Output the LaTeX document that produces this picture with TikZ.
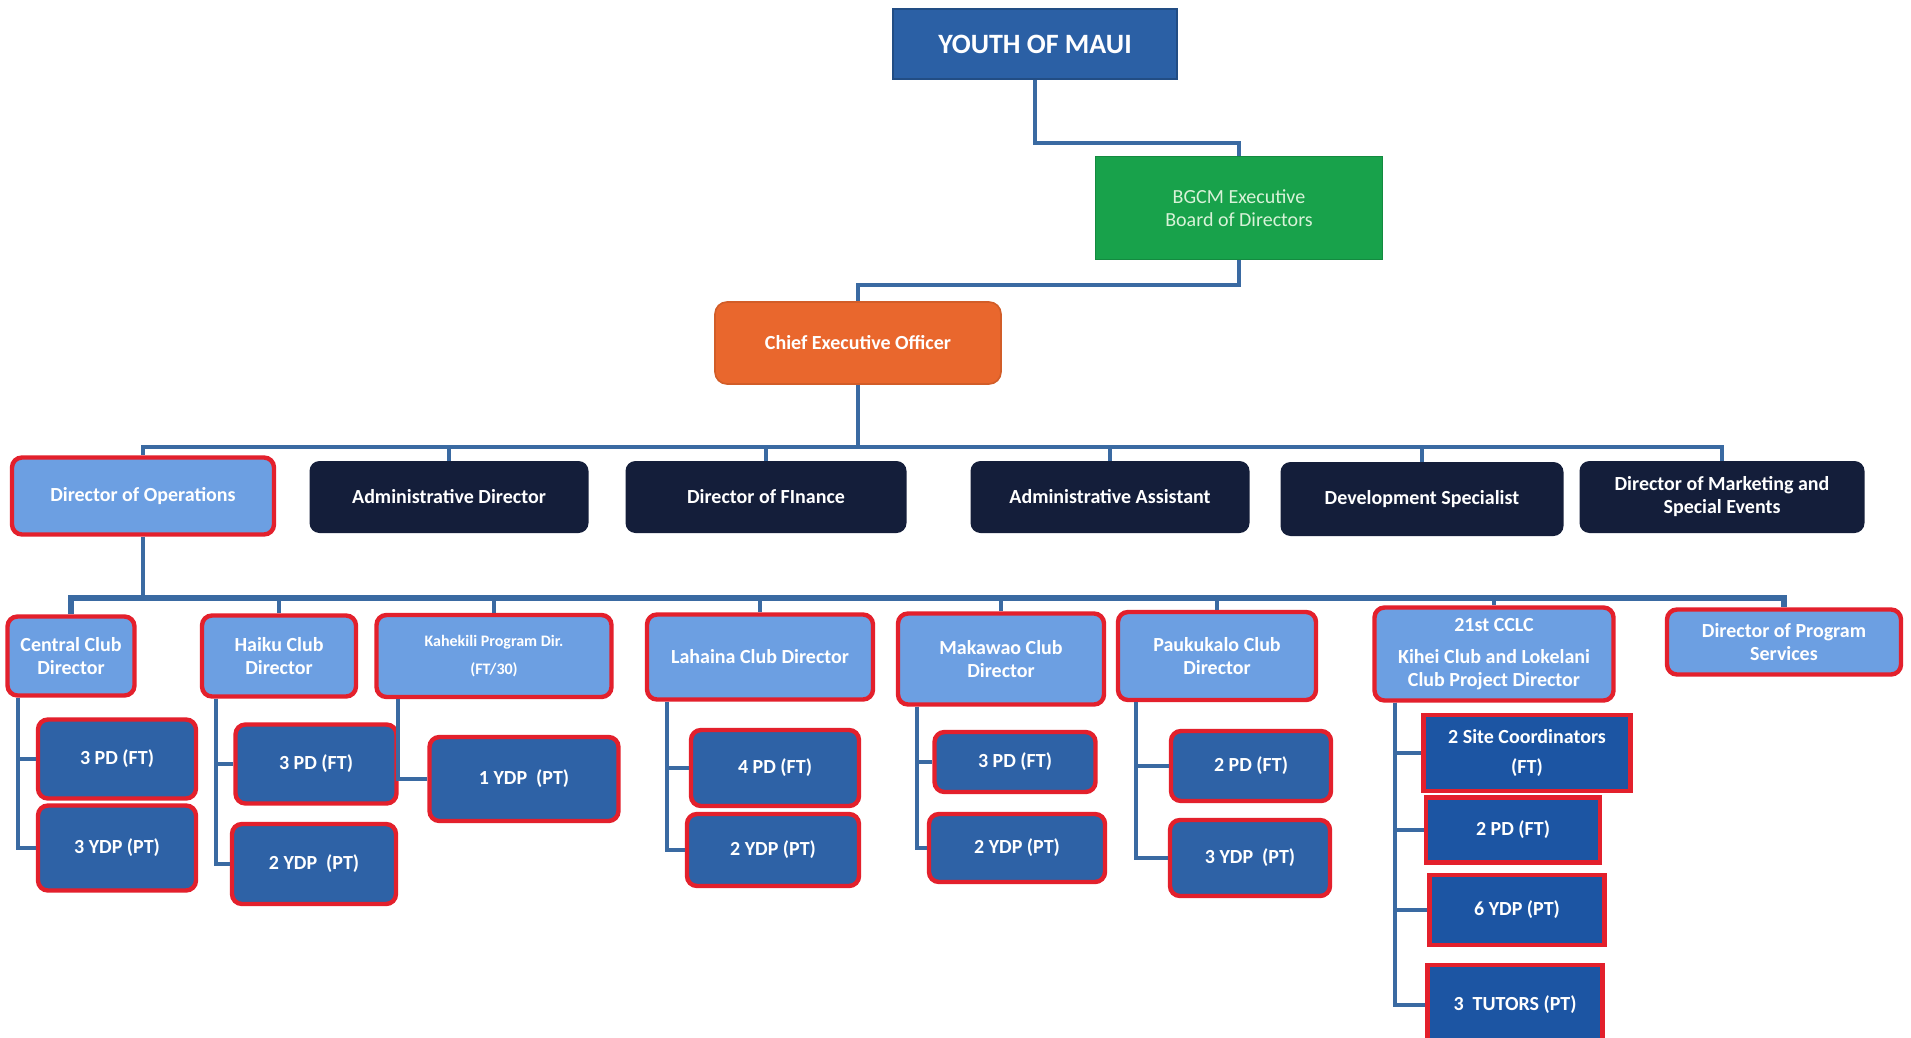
\documentclass[tikz,border=0pt]{standalone}
\usepackage{fontspec}
\setmainfont{Carlito}
\usetikzlibrary{calc}
\definecolor{linec}{HTML}{3A6AA2}
\definecolor{lightb}{HTML}{6C9FE2}
\definecolor{darkb}{HTML}{2E62A6}
\definecolor{cclcb}{HTML}{1C55A3}
\definecolor{navyb}{HTML}{141E3A}
\definecolor{redb}{HTML}{E3202C}
\definecolor{youthb}{HTML}{2B60A5}
\definecolor{greenb}{HTML}{18A24B}
\definecolor{orangeb}{HTML}{E9672D}
\definecolor{greent}{HTML}{D8F2D8}
\begin{document}
\begin{tikzpicture}[x=0.5pt,y=-0.5pt,
  sz/.style 2 args={minimum width=#1*0.5pt,minimum height=#2*0.5pt},
  base/.style={align=center,text=white,inner sep=0pt,font=\bfseries\fontsize{10}{11.5}\selectfont},
  lbox/.style={base,fill=lightb,draw=redb,line width=2.2pt,rounded corners=5pt},
  dbox/.style={base,fill=darkb,draw=redb,line width=2.2pt,rounded corners=5pt},
  sqbox/.style={base,fill=cclcb,draw=redb,line width=2.2pt},
  nbox/.style={base,fill=navyb,rounded corners=5pt},
  conn/.style={draw=linec,line width=2pt},
  thickconn/.style={draw=linec,line width=2.6pt}]
\useasboundingbox[fill=white] (0,0) rectangle (1911,1038);

% top levels
\node[base,fill=youthb,draw=youthb!80!black,line width=0.8pt,sz={284}{70},font=\bfseries\fontsize{14}{16}\selectfont] (youth) at (1035,44) {YOUTH OF MAUI};
\node[base,fill=greenb,draw=greenb!85!black,line width=0.8pt,sz={287}{103},text=greent,font=\fontsize{10}{11.5}\selectfont] (bgcm) at (1239,208) {BGCM Executive\\Board of Directors};
\node[base,fill=orangeb,draw=orangeb!90!black,line width=0.8pt,rounded corners=6pt,sz={286}{82}] (ceo) at (858,343) {Chief Executive Officer};

% second level
\node[lbox,sz={262}{77}] (ops) at (143,496) {Director of Operations};
\node[nbox,sz={279}{72}] (adm) at (449,497) {Administrative Director};
\node[nbox,sz={281}{72}] (fin) at (766,497) {Director of FInance};
\node[nbox,sz={279}{72}] (asst) at (1110,497) {Administrative Assistant};
\node[nbox,sz={283}{74}] (dev) at (1422,499) {Development Specialist};
\node[nbox,sz={285}{72}] (mkt) at (1722,497) {Director of Marketing and\\Special Events};

% third level
\node[lbox,sz={127}{79}] (central) at (71,656) {Central Club\\Director};
\node[lbox,sz={154}{81}] (haiku) at (279,656) {Haiku Club\\Director};
\node[lbox,sz={235}{82},font=\bfseries\fontsize{8}{10}\selectfont] (kah) at (494,656) {Kahekili Program Dir.\\[4pt](FT/30)};
\node[lbox,sz={226}{85}] (lah) at (760,657) {Lahaina Club Director};
\node[lbox,sz={206}{91}] (mak) at (1001,659) {Makawao Club\\Director};
\node[lbox,sz={198}{88}] (pau) at (1217,656) {Paukukalo Club\\Director};
\node[lbox,sz={239}{93}] (cclc) at (1494,654) {21st CCLC\\[4.5pt]Kihei Club and Lokelani\\Club Project Director};
\node[lbox,sz={234}{65}] (dps) at (1784,642) {Director of Program\\Services};

% fourth level
\node[dbox,sz={158}{79}] (c1) at (117,759) {3 PD (FT)};
\node[dbox,sz={158}{85}] (c2) at (117,848) {3 YDP (PT)};
\node[dbox,sz={161}{79}] (h1) at (316,764) {3 PD (FT)};
\node[dbox,sz={164}{80}] (h2) at (314,864) {2 YDP\ \ (PT)};
\node[dbox,sz={189}{84}] (k1) at (524,779) {1 YDP\ \ (PT)};
\node[dbox,sz={168}{76}] (l1) at (775,768) {4 PD (FT)};
\node[dbox,sz={172}{72}] (l2) at (773,850) {2 YDP (PT)};
\node[dbox,sz={161}{60}] (m1) at (1015,762) {3 PD (FT)};
\node[dbox,sz={176}{68}] (m2) at (1017,848) {2 YDP (PT)};
\node[dbox,sz={160}{70}] (p1) at (1251,766) {2 PD (FT)};
\node[dbox,sz={160}{76}] (p2) at (1250,858) {3 YDP\ \ (PT)};
\node[sqbox,sz={207}{76}] (s1) at (1527,753) {2 Site Coordinators\\[3.5pt](FT)};
\node[sqbox,sz={174}{65}] (s2) at (1513,830) {2 PD (FT)};
\node[sqbox,sz={175}{70}] (s3) at (1517,910) {6 YDP (PT)};
\node[sqbox,sz={175}{80}] (s4) at (1515,1005) {3\ \ TUTORS (PT)};

% connectors top
\draw[conn] (youth.south) |- ($(bgcm.north)+(0,-13)$) -- (bgcm.north);
\draw[conn] (bgcm.south) |- ($(ceo.north)+(0,-16)$) -- (ceo.north);

\coordinate (bus1) at (858,447);
\draw[conn] (ceo.south) -- (bus1);
\foreach \n in {ops,adm,fin,asst,dev,mkt} \draw[conn] (bus1) -| (\n.north);

\coordinate (bus2) at (143,598);
\draw[conn] (ops.south) -- (bus2);
\foreach \n in {central,haiku,kah,lah,mak,pau,cclc,dps} \draw[conn] (bus2) -| (\n.north);
\draw[thickconn] (bus2) -| (dps.north);
\draw[thickconn] (bus2) -| (central.north);

% branches
\foreach \p/\o/\kids in {central/13/{c1,c2},haiku/16/{h1,h2},kah/24/{k1},lah/22/{l1,l2},mak/21/{m1,m2},pau/20/{p1,p2},cclc/23/{s1,s2,s3,s4}}{
  \foreach \k in \kids \draw[conn] ($(\p.south west)+(\o,0)$) |- (\k.west);
}
\end{tikzpicture}
\end{document}
